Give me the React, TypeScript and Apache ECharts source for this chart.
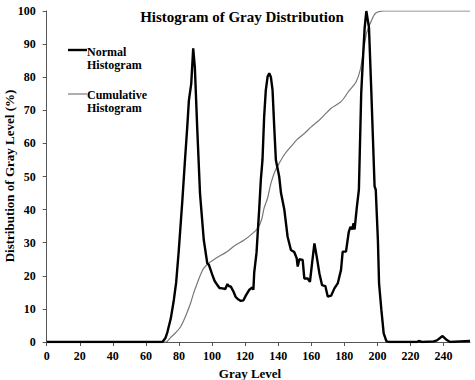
import React, { useEffect, useRef } from "react";
import * as echarts from "echarts";

const titleText = "Histogram of Gray Distribution";
const xName = "Gray Level";
const yName = "Distribution of Gray Level (%)";
const legendNames = ["Normal\nHistogram", "Cumulative\nHistogram"];

// Normal histogram: [gray level, %]
const normalHist: [number, number][] = [
  [0, 0], [70, 0], [71.8, 1.2], [73, 3], [75, 7], [76.9, 12.7], [78.3, 18], [79.9, 27.8], [82, 42.5],
  [83.5, 54], [85, 65], [86, 73], [87.4, 78], [88.6, 88.7], [89.6, 83], [91, 65], [92.7, 45],
  [95, 30.8], [97.1, 23.8], [98.1, 23.3], [100, 20.5], [101.5, 18.5], [103.2, 17.2], [104.5, 16.3],
  [106.3, 16.2], [108, 16], [109.3, 17.5], [110.3, 16.8], [111.3, 16.8], [113, 15.2], [114.3, 13.6],
  [115.5, 13], [117.4, 12.4], [119, 12.6], [120.4, 14], [122.4, 15.7], [124.4, 16.5], [125, 15.8],
  [125.5, 21], [126.9, 27], [127.5, 32], [128.5, 40], [129.5, 49], [130.5, 55], [131.5, 68],
  [132.5, 76], [133.6, 80.2], [134.6, 81.2], [135.6, 80], [136.6, 76], [137.6, 65], [138.6, 55],
  [140.6, 50], [141.7, 45], [143.7, 40], [145.7, 31.8], [147.7, 27.8], [149.7, 27.2], [151.2, 25.3],
  [151.8, 22.8], [152.8, 25], [154.8, 24.8], [155.8, 19.2], [157.8, 19.2], [159.2, 18.2], [160.5, 23.8],
  [161.9, 29.8], [163.3, 25.8], [164.9, 20.8], [166.5, 17.2], [168.5, 16.9], [170, 13.7], [172, 14],
  [174, 16.2], [176, 17.7], [178, 21.8], [179, 27.3], [181, 27.3], [182.7, 33.3], [183.7, 34.8],
  [184.7, 34], [185.6, 35.9], [186.2, 34], [187.6, 40.9], [188.8, 46], [190.2, 75], [191.3, 86],
  [192.3, 95], [193.3, 100], [194.9, 95], [196.3, 76], [198.3, 47], [199, 46], [200.3, 30.8],
  [201, 17.7], [202.4, 9.7], [203.8, 2.6], [205.4, 0.3], [207, 0], [224, 0], [225, 0.3], [227, 0],
  [234, 0.2], [236, 0.5], [239.4, 1.8], [242, 0.6], [244, 0], [250, 0.2], [256, 0.3],
];

// Cumulative histogram: [gray level, %]
const cumulativeHist: [number, number][] = [
  [0, 0], [72, 0], [75, 1.4], [78, 2.8], [81, 4.6], [84, 7.8], [87, 11.7], [89, 15], [91, 17.7],
  [93, 20.3], [95, 22.3], [98, 23.8], [103, 25.5], [109, 27.3], [114, 29.2], [119.4, 30.8],
  [124, 32.6], [127.5, 34.3], [130, 37], [131.5, 40.5], [133.6, 43.5], [135.6, 47.9], [138, 51.5],
  [140.6, 54], [144, 56.8], [147.7, 59], [151.5, 61.2], [155.8, 63], [160, 65], [163.9, 66.6],
  [168, 68.6], [172, 70.6], [178, 72.6], [183, 76], [187, 78.5], [189.5, 82], [191.3, 87],
  [193.3, 93], [195, 95.5], [196.3, 97], [198, 98.8], [199.3, 99.5], [201.5, 99.9], [203.7, 100],
  [256, 100],
];

const xTickMin = 0;
const xTickMax = 256;
const xTickStep = 20;
const yTickMin = 0;
const yTickMax = 100;
const yTickStep = 10;

const SERIF = "'Liberation Serif', 'DejaVu Serif', serif";

export default function App() {
  const ref = useRef<HTMLDivElement>(null);
  useEffect(() => {
    if (!ref.current) return;
    const chart = echarts.init(ref.current, null, { renderer: "svg" });
    const labelStyle = { fontFamily: SERIF, fontWeight: "bold" as const, fontSize: 12, color: "#000" };
    chart.setOption({
      animation: false,
      backgroundColor: "#fff",
      grid: { left: 46.7, right: 5, top: 11, bottom: 38, containLabel: false },
      xAxis: {
        type: "value",
        min: xTickMin,
        max: xTickMax,
        interval: xTickStep,
        axisLine: { show: true, onZero: false, lineStyle: { color: "#555", width: 1 } },
        axisTick: { show: true, length: 4, lineStyle: { color: "#555" } },
        axisLabel: { ...labelStyle, margin: 8, showMaxLabel: false },
        splitLine: { show: false },
      },
      yAxis: {
        type: "value",
        min: yTickMin,
        max: yTickMax,
        interval: yTickStep,
        axisLine: { show: true, lineStyle: { color: "#555", width: 1 } },
        axisTick: { show: true, length: 4, lineStyle: { color: "#555" } },
        axisLabel: { ...labelStyle, margin: 11 },
        splitLine: { show: false },
      },
      series: [
        {
          name: legendNames[1],
          type: "line",
          data: cumulativeHist,
          showSymbol: false,
          smooth: 0.3,
          lineStyle: { color: "#777", width: 1.2 },
          z: 2,
        },
        {
          name: legendNames[0],
          type: "line",
          data: normalHist,
          showSymbol: false,
          lineStyle: { color: "#000", width: 2.4 },
          z: 3,
        },
      ],
      graphic: [
        {
          type: "text",
          x: 242,
          y: 17,
          style: {
            text: titleText,
            font: `bold 15px ${SERIF}`,
            fill: "#000",
            textAlign: "center",
            textVerticalAlign: "middle",
          },
        },
        {
          type: "text",
          x: 250,
          y: 373,
          style: {
            text: xName,
            font: `bold 13px ${SERIF}`,
            fill: "#000",
            textAlign: "center",
            textVerticalAlign: "middle",
          },
        },
        {
          type: "text",
          x: 9,
          y: 176,
          rotation: Math.PI / 2,
          style: {
            text: yName,
            font: `bold 13px ${SERIF}`,
            fill: "#000",
            textAlign: "center",
            textVerticalAlign: "middle",
          },
        },
        {
          type: "line",
          shape: { x1: 68, y1: 50, x2: 87, y2: 50 },
          style: { stroke: "#000", lineWidth: 2.4 },
        },
        {
          type: "text",
          x: 87,
          y: 45,
          style: {
            text: legendNames[0],
            font: `bold 12px ${SERIF}`,
            lineHeight: 13.5,
            fill: "#000",
            textAlign: "left",
            textVerticalAlign: "top",
          },
        },
        {
          type: "line",
          shape: { x1: 68, y1: 94, x2: 87, y2: 94 },
          style: { stroke: "#777", lineWidth: 1.2 },
        },
        {
          type: "text",
          x: 87,
          y: 88,
          style: {
            text: legendNames[1],
            font: `bold 12px ${SERIF}`,
            lineHeight: 13.5,
            fill: "#000",
            textAlign: "left",
            textVerticalAlign: "top",
          },
        },
      ],
    });
    return () => chart.dispose();
  }, []);
  return <div ref={ref} style={{ width: 475, height: 380, position: "absolute", left: 0, top: 0 }} />;
}
